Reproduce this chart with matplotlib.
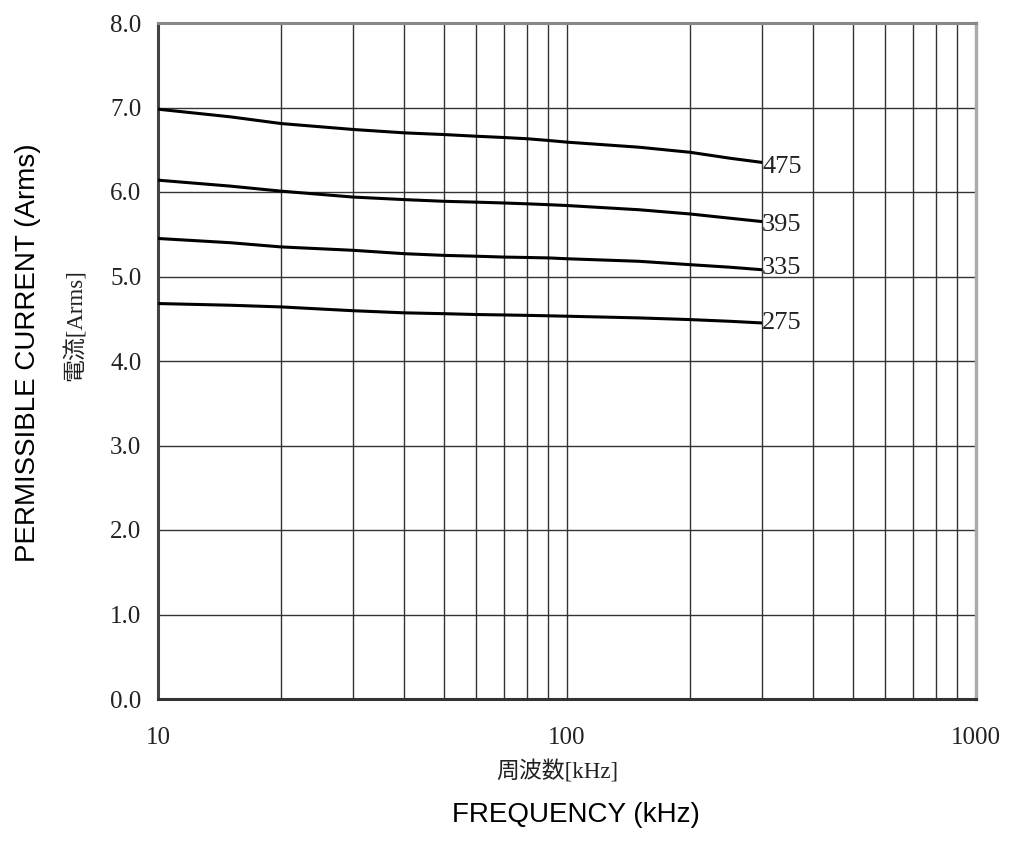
import matplotlib
matplotlib.use("Agg")
import matplotlib.pyplot as plt
from matplotlib.ticker import FixedLocator, NullFormatter, FixedFormatter

# ---- data ----
freq_khz = [10, 15, 20, 30, 40, 50, 60, 70, 80, 90, 100, 150, 200, 250, 300]
i_475 = [6.98, 6.89, 6.81, 6.74, 6.70, 6.68, 6.66, 6.645, 6.63, 6.61, 6.59, 6.53, 6.47, 6.40, 6.35]
i_395 = [6.14, 6.07, 6.01, 5.94, 5.91, 5.89, 5.88, 5.87, 5.86, 5.85, 5.84, 5.79, 5.74, 5.69, 5.65]
i_335 = [5.45, 5.40, 5.35, 5.31, 5.27, 5.25, 5.24, 5.23, 5.225, 5.22, 5.21, 5.18, 5.14, 5.11, 5.08]
i_275 = [4.68, 4.66, 4.64, 4.595, 4.57, 4.56, 4.55, 4.545, 4.54, 4.535, 4.53, 4.51, 4.49, 4.47, 4.45]
series_names = ["475", "395", "335", "275"]
label_y = [6.29, 5.61, 5.10, 4.45]

y_ticks = [0, 1, 2, 3, 4, 5, 6, 7, 8]
y_ticklabels = ["0.0", "1.0", "2.0", "3.0", "4.0", "5.0", "6.0", "7.0", "8.0"]
x_ticks = [10, 100, 1000]
x_ticklabels = ["10", "100", "1000"]
x_minor = [20, 30, 40, 50, 60, 70, 80, 90, 200, 300, 400, 500, 600, 700, 800, 900]

SERIF = ["Liberation Serif", "Noto Sans CJK JP"]
SANS = ["Liberation Sans", "DejaVu Sans"]

W, H = 1009, 843
fig = plt.figure(figsize=(W / 100, H / 100), dpi=100)
ax = fig.add_axes([158 / W, (H - 699) / H, (976 - 158) / W, (699 - 23) / H])

ax.set_xscale("log")
ax.set_xlim(10, 1000)
ax.set_ylim(0, 8)

ax.xaxis.set_major_locator(FixedLocator(x_ticks))
ax.xaxis.set_major_formatter(FixedFormatter(x_ticklabels))
ax.xaxis.set_minor_locator(FixedLocator(x_minor))
ax.xaxis.set_minor_formatter(NullFormatter())
ax.yaxis.set_major_locator(FixedLocator(y_ticks))
ax.yaxis.set_major_formatter(FixedFormatter(y_ticklabels))

ax.grid(True, which="major", color="#333333", linewidth=1.0)
ax.grid(True, which="minor", axis="x", color="#333333", linewidth=1.0)
ax.set_axisbelow(True)

ax.tick_params(axis="both", which="both", length=0)
ax.tick_params(axis="x", pad=20)
ax.tick_params(axis="y", pad=12)
for lab in ax.get_xticklabels() + ax.get_yticklabels():
    lab.set_family(SERIF)
    lab.set_fontsize(18)
    lab.set_color("#222222")

ax.spines["left"].set_color("#444444")
ax.spines["left"].set_linewidth(2.2)
ax.spines["bottom"].set_color("#333333")
ax.spines["bottom"].set_linewidth(2.2)
ax.spines["top"].set_color("#888888")
ax.spines["top"].set_linewidth(2.2)
ax.spines["right"].set_color("#aaaaaa")
ax.spines["right"].set_linewidth(2.5)

all_series = [i_475, i_395, i_335, i_275]
for vals, name, ly in zip(all_series, series_names, label_y):
    ax.plot(freq_khz, vals, color="black", linewidth=2.2, solid_capstyle="butt",
            solid_joinstyle="round", zorder=3)
    ax.text(freq_khz[-1], ly, name, family=SERIF, fontsize=19, color="#222222",
            ha="left", va="center", zorder=4)

# axis titles
fig.text(557 / W, 1 - 772 / H, "周波数[kHz]", family=SERIF, fontsize=16.5,
         ha="center", va="center", color="#222222")
fig.text(576 / W, 1 - 815 / H, "FREQUENCY (kHz)", family=SANS, fontsize=20,
         ha="center", va="center", color="black")
fig.text(75 / W, 1 - 325 / H, "電流[Arms]", family=SERIF, fontsize=16.5,
         ha="center", va="center", rotation=90, color="#222222")
fig.text(28 / W, 1 - 353 / H, "PERMISSIBLE CURRENT (Arms)", family=SANS, fontsize=20,
         ha="center", va="center", rotation=90, color="black")

fig.savefig("out.png", dpi=100)
